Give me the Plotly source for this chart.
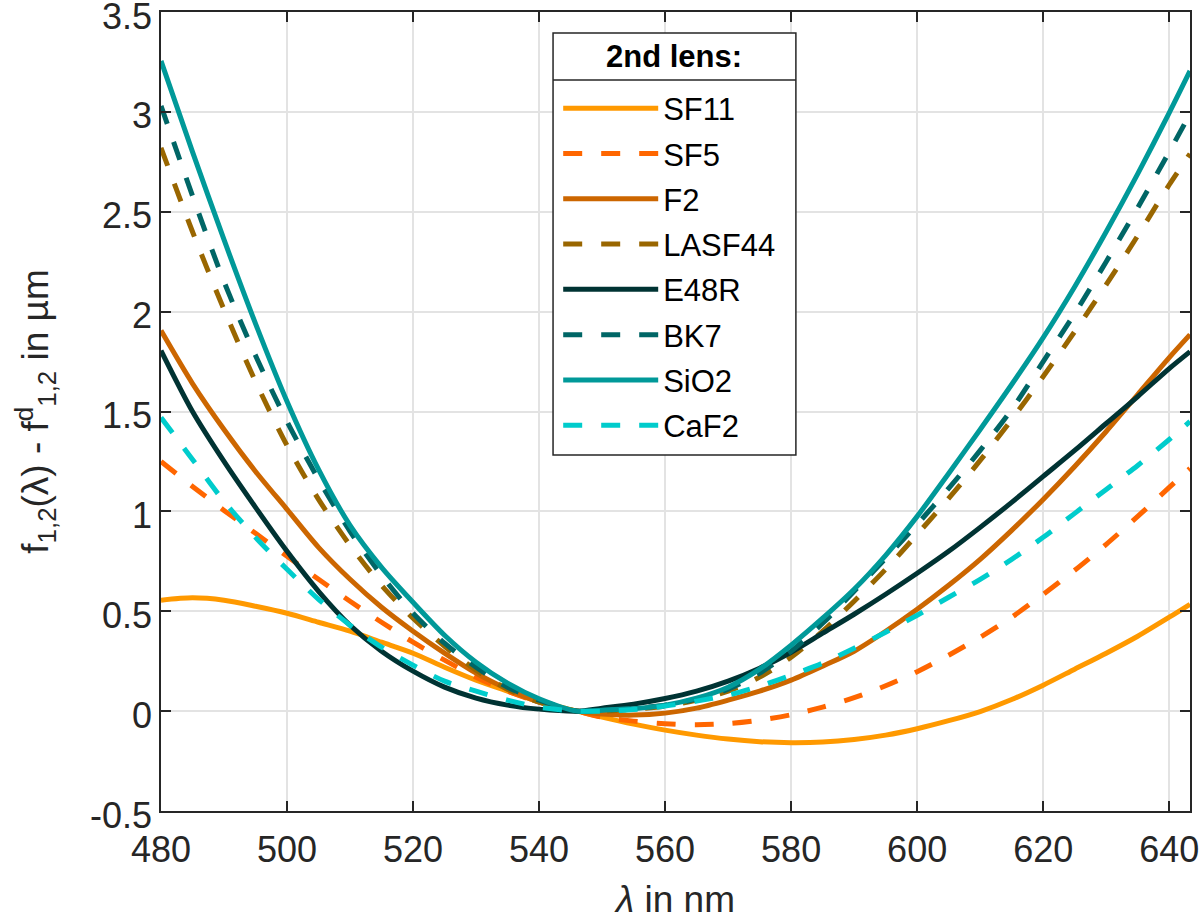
import plotly.graph_objects as go

# wavelength grid (nm)
lam = [480, 485, 490, 495, 500, 505, 510, 515, 520, 525, 530, 535, 540, 546.07,
       550, 555, 560, 565, 570, 575, 580, 585, 590, 595, 600, 605, 610, 615, 620,
       625, 630, 635, 640, 643.3]

sf11 = [0.555, 0.567, 0.555, 0.525, 0.49, 0.445, 0.40, 0.345, 0.29, 0.22, 0.155, 0.10, 0.047, 0.0,
        -0.03, -0.065, -0.095, -0.12, -0.14, -0.153, -0.158, -0.155, -0.142, -0.12, -0.088, -0.048,
        -0.002, 0.058, 0.13, 0.21, 0.29, 0.375, 0.47, 0.535]
sf5 = [1.25, 1.125, 1.005, 0.89, 0.775, 0.66, 0.55, 0.445, 0.345, 0.255, 0.17, 0.10, 0.045, 0.0,
       -0.03, -0.05, -0.063, -0.068, -0.062, -0.045, -0.018, 0.02, 0.067, 0.127, 0.197, 0.28,
       0.37, 0.47, 0.585, 0.705, 0.835, 0.975, 1.12, 1.215]
f2 = [1.905, 1.64, 1.41, 1.2, 1.01, 0.82, 0.66, 0.52, 0.40, 0.29, 0.19, 0.11, 0.045, 0.0,
      -0.015, -0.02, -0.01, 0.015, 0.055, 0.1, 0.155, 0.225, 0.3, 0.4, 0.51, 0.63, 0.76,
      0.905, 1.06, 1.225, 1.4, 1.585, 1.77, 1.885]
lasf44 = [2.82, 2.4, 2.01, 1.65, 1.33, 1.06, 0.83, 0.63, 0.465, 0.325, 0.205, 0.11, 0.045, 0.0,
          0.0, 0.01, 0.025, 0.055, 0.1, 0.17, 0.27, 0.40, 0.55, 0.71, 0.885, 1.065, 1.255,
          1.46, 1.675, 1.9, 2.135, 2.38, 2.635, 2.79]
e48r = [1.805, 1.5, 1.25, 1.02, 0.8, 0.6, 0.43, 0.3, 0.2, 0.12, 0.065, 0.03, 0.01, 0.0,
        0.015, 0.035, 0.063, 0.1, 0.15, 0.215, 0.295, 0.39, 0.485, 0.585, 0.69, 0.8, 0.92,
        1.045, 1.175, 1.305, 1.44, 1.575, 1.715, 1.8]
bk7 = [3.03, 2.58, 2.15, 1.78, 1.45, 1.16, 0.9, 0.68, 0.49, 0.34, 0.22, 0.12, 0.055, 0.0,
       0.005, 0.015, 0.03, 0.06, 0.11, 0.19, 0.3, 0.44, 0.6, 0.765, 0.935, 1.115, 1.305,
       1.51, 1.75, 1.99, 2.25, 2.52, 2.8, 2.99]
sio2 = [3.255, 2.8, 2.36, 1.94, 1.55, 1.21, 0.93, 0.72, 0.545, 0.38, 0.245, 0.14, 0.062, 0.0,
        0.005, 0.012, 0.03, 0.065, 0.12, 0.21, 0.33, 0.465, 0.61, 0.78, 0.975, 1.19, 1.41,
        1.635, 1.87, 2.125, 2.4, 2.69, 2.995, 3.205]
caf2 = [1.47, 1.26, 1.05, 0.87, 0.71, 0.56, 0.43, 0.32, 0.23, 0.15, 0.1, 0.055, 0.02, 0.0,
        0.0, 0.008, 0.025, 0.05, 0.08, 0.125, 0.18, 0.24, 0.315, 0.395, 0.48, 0.57, 0.66,
        0.76, 0.87, 0.99, 1.11, 1.23, 1.36, 1.45]

names = ["SF11", "SF5", "F2", "LASF44", "E48R", "BK7", "SiO2", "CaF2"]
series = [sf11, sf5, f2, lasf44, e48r, bk7, sio2, caf2]
colors = ["#FF9900", "#FF6600", "#CC6600", "#996600", "#003333", "#006666", "#009999", "#00CCCC"]
dashes = ["solid", "19px,19px", "solid", "19px,19px", "solid", "19px,19px", "solid", "19px,19px"]

xticks = [480, 500, 520, 540, 560, 580, 600, 620, 640]
yticks = [-0.5, 0, 0.5, 1, 1.5, 2, 2.5, 3, 3.5]
yticktext = ["-0.5", "0", "0.5", "1", "1.5", "2", "2.5", "3", "3.5"]
legend_title = "<b>2nd lens:</b>"

FONT = "Liberation Sans, Arial, Helvetica, sans-serif"

fig = go.Figure()
for n, s, c, d in zip(names, series, colors, dashes):
    fig.add_trace(go.Scatter(x=lam, y=s, mode="lines", name=n, legendgroup=n,
                             line=dict(color=c, width=5, dash=d, shape="spline", smoothing=0.8)))

axis_common = dict(showline=True, linecolor="#262626", linewidth=1.5, mirror="ticks",
                   ticks="inside", ticklen=10, tickwidth=1.5, tickcolor="#262626",
                   showgrid=True, gridcolor="#e3e3e3", gridwidth=1.5, zeroline=False,
                   automargin=False, ticklabeloverflow="allow",
                   tickfont=dict(family=FONT, size=36, color="#262626"))

fig.update_xaxes(range=[lam[0], lam[-1]], tickvals=xticks, ticklabelstandoff=6, **axis_common,
                 title=dict(text="<i>λ</i> in nm", font=dict(family=FONT, size=37, color="#262626"),
                            standoff=17))
fig.update_yaxes(range=[yticks[0], yticks[-1]], tickvals=yticks, ticktext=yticktext,
                 ticklabelshift=4, **axis_common,
                 title=dict(text="f<sub>1,2</sub>(λ) - f<sup>d</sup><sub>1,2</sub> in µm",
                            font=dict(family=FONT, size=37, color="#262626"), standoff=30))

# legend frame, title and separator (layout decorations, paper coordinates)
lx0, lx1 = 0.381, 0.617
ly0, ly1, lsep = 0.4456, 0.9737, 0.9149
fig.add_shape(type="rect", xref="paper", yref="paper", x0=lx0, x1=lx1, y0=ly0, y1=ly1,
              line=dict(color="#262626", width=1.5), fillcolor="white", layer="above")
fig.add_shape(type="line", xref="paper", yref="paper", x0=lx0, x1=lx1, y0=lsep, y1=lsep,
              line=dict(color="#262626", width=1.5), layer="above")
fig.add_annotation(text=legend_title, xref="paper", yref="paper", x=(lx0 + lx1) / 2, y=0.9437,
                   xanchor="center", yanchor="middle", showarrow=False,
                   font=dict(family=FONT, size=31, color="#000000"))

fig.update_layout(
    width=1200, height=920,
    margin=dict(l=161, r=10, t=12, b=109),
    plot_bgcolor="white", paper_bgcolor="white",
    font=dict(family=FONT, color="#262626"),
    legend=dict(x=lx0 + 0.005, y=0.913, xanchor="left", yanchor="top",
                bgcolor="rgba(0,0,0,0)", borderwidth=0,
                font=dict(family=FONT, size=31, color="#000000"),
                tracegroupgap=2, itemwidth=95),
)

fig.write_html("out.html", config={"displayModeBar": False},
               post_script="document.body.style.margin='0';document.body.style.overflow='hidden';")
